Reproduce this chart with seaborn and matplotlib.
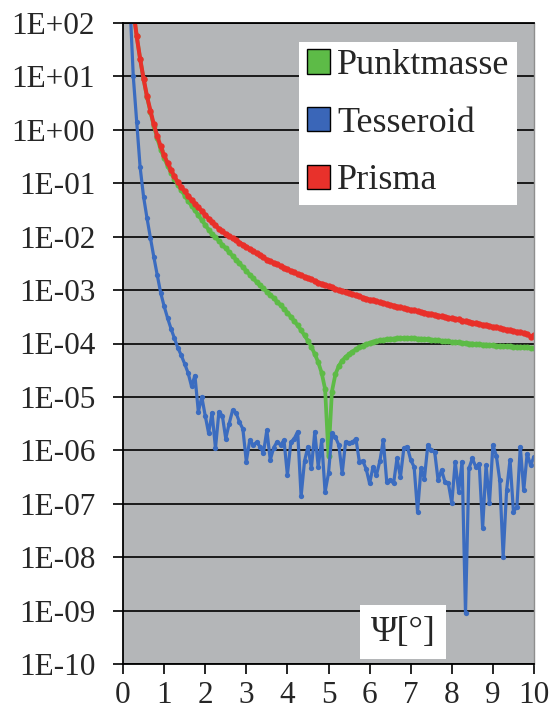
import numpy as np
import pandas as pd
import matplotlib
matplotlib.use("Agg")
import matplotlib.pyplot as plt
import seaborn as sns
from matplotlib.patches import Patch
from matplotlib.ticker import FixedLocator, FuncFormatter, NullLocator

# ---------------- data (psi in degrees, step 5' = 1/12 deg) ----------------
psi_steps = list(range(1, 121))          # psi = step / 12 degrees

# log10 of the values
punktmasse_log10 = [
    4.00, 3.00, 2.25, 1.75, 1.33, 0.95, 0.62, 0.34, 0.07, -0.16,
    -0.37, -0.53, -0.67, -0.80, -0.92, -1.03, -1.13, -1.23, -1.33, -1.42,
    -1.51, -1.60, -1.69, -1.78, -1.87, -1.95, -2.01, -2.08, -2.15, -2.22,
    -2.29, -2.36, -2.43, -2.50, -2.57, -2.64, -2.71, -2.78, -2.85, -2.91,
    -2.97, -3.03, -3.09, -3.15, -3.22, -3.28, -3.35, -3.42, -3.50, -3.58,
    -3.66, -3.75, -3.85, -3.95, -4.06, -4.20, -4.35, -4.55, -4.85, -6.10,
    -4.90, -4.58, -4.42, -4.32, -4.25, -4.20, -4.15, -4.11, -4.07, -4.04,
    -4.01, -3.99, -3.97, -3.95, -3.94, -3.93, -3.92, -3.91, -3.91, -3.90,
    -3.90, -3.90, -3.90, -3.90, -3.90, -3.91, -3.91, -3.92, -3.92, -3.93,
    -3.93, -3.94, -3.95, -3.95, -3.96, -3.97, -3.97, -3.98, -3.99, -3.99,
    -4.00, -4.00, -4.01, -4.01, -4.02, -4.02, -4.03, -4.03, -4.04, -4.04,
    -4.05, -4.05, -4.05, -4.06, -4.06, -4.07, -4.07, -4.07, -4.08, -4.08,
]

tesseroid_log10 = [
    4.00, 2.40, 1.00, 0.15, -0.70, -1.25, -1.65, -2.02, -2.38, -2.72,
    -3.05, -3.30, -3.52, -3.72, -3.90, -4.08, -4.22, -4.38, -4.55, -4.80,
    -4.60, -5.28, -5.00, -5.35, -5.68, -5.30, -5.96, -5.28, -5.35, -5.78,
    -5.50, -5.25, -5.30, -5.47, -5.60, -6.21, -5.81, -5.90, -5.85, -5.93,
    -6.05, -5.62, -6.18, -5.95, -5.84, -5.90, -5.81, -6.46, -5.85, -5.78,
    -5.65, -6.86, -6.20, -5.93, -6.34, -5.65, -6.31, -5.81, -6.78, -6.43,
    -5.68, -5.75, -5.90, -6.43, -5.84, -5.87, -5.85, -5.78, -6.21, -6.20,
    -6.35, -6.62, -6.31, -6.46, -6.20, -5.81, -6.59, -6.55, -6.62, -6.15,
    -6.50, -5.96, -5.93, -6.18, -6.31, -7.15, -6.34, -6.53, -5.90, -6.00,
    -6.03, -6.56, -6.37, -6.59, -6.62, -6.99, -6.21, -6.78, -6.21, -9.05,
    -6.34, -6.15, -6.31, -6.25, -7.46, -6.28, -6.99, -5.90, -6.10, -6.56,
    -7.99, -6.75, -6.18, -7.15, -7.06, -5.93, -6.75, -6.06, -6.28, -6.12,
]

prisma_log10 = [
    4.00, 3.00, 2.25, 1.75, 1.33, 0.96, 0.63, 0.36, 0.10, -0.12,
    -0.31, -0.48, -0.62, -0.75, -0.87, -0.98, -1.07, -1.15, -1.23, -1.31,
    -1.38, -1.45, -1.52, -1.59, -1.66, -1.73, -1.79, -1.85, -1.90, -1.95,
    -1.99, -2.03, -2.07, -2.11, -2.15, -2.19, -2.23, -2.27, -2.31, -2.35,
    -2.39, -2.43, -2.46, -2.49, -2.52, -2.55, -2.58, -2.61, -2.64, -2.67,
    -2.70, -2.72, -2.75, -2.78, -2.80, -2.83, -2.86, -2.88, -2.91, -2.93,
    -2.95, -2.98, -3.00, -3.02, -3.04, -3.06, -3.08, -3.10, -3.12, -3.14,
    -3.16, -3.18, -3.19, -3.21, -3.23, -3.24, -3.26, -3.28, -3.29, -3.31,
    -3.32, -3.34, -3.35, -3.37, -3.38, -3.40, -3.41, -3.42, -3.44, -3.45,
    -3.46, -3.48, -3.49, -3.50, -3.52, -3.53, -3.54, -3.55, -3.57, -3.58,
    -3.59, -3.61, -3.62, -3.63, -3.65, -3.66, -3.67, -3.69, -3.70, -3.71,
    -3.73, -3.74, -3.75, -3.77, -3.78, -3.79, -3.81, -3.82, -3.87, -3.84,
]

series_names = ["Punktmasse", "Tesseroid", "Prisma"]
series_colors = ["#5dbb46", "#3b6cc0", "#e8302a"]
legend_colors = ["#5dbb47", "#3a66b8", "#e8312b"]
y_exponents = list(range(-10, 3))
x_ticks = list(range(0, 11))
x_label = "\u03a8[\u00b0]"

# ---------------- build tidy table ----------------
psi = np.array(psi_steps) / 12.0
frames = []
for name, vals in zip(series_names, [punktmasse_log10, tesseroid_log10, prisma_log10]):
    frames.append(pd.DataFrame({"psi": psi, "value": 10.0 ** np.array(vals), "series": name}))
df = pd.concat(frames, ignore_index=True)

# ---------------- style ----------------
sns.set_theme(style="white")
plt.rcParams["font.family"] = ["Liberation Serif", "DejaVu Serif"]

fig = plt.figure(figsize=(5.53, 7.09), dpi=100)
ax = fig.add_axes([123 / 553, 45 / 709, 411 / 553, 641 / 709])
ax.set_facecolor("#b4b6b8")
ax.set_yscale("log")

line_w = {"Punktmasse": 2.7, "Tesseroid": 2.3, "Prisma": 2.9}
mark_s = {"Punktmasse": 4.3, "Tesseroid": 3.8, "Prisma": 4.6}
for name, col in zip(series_names, series_colors):
    sub = df[df["series"] == name]
    sns.lineplot(data=sub, x="psi", y="value", ax=ax, color=col, lw=line_w[name],
                 marker="o", markersize=mark_s[name], markeredgewidth=0,
                 estimator=None, sort=False, legend=False)

ax.set_xlim(0, 10)
ax.set_ylim(1e-10, 1e2)
ax.yaxis.set_major_locator(FixedLocator([10.0 ** e for e in y_exponents]))
ax.yaxis.set_minor_locator(NullLocator())
ax.yaxis.set_major_formatter(FuncFormatter(lambda v, p: "1E%+03d" % int(round(np.log10(v)))))
ax.set_xticks(x_ticks)
ax.set_xticklabels([str(t) for t in x_ticks])
ax.set_xlabel("")
ax.set_ylabel("")

ax.grid(axis="y", color="black", lw=1.2)
ax.grid(axis="x", visible=False)
ax.set_axisbelow(True)

ax.tick_params(axis="y", which="major", direction="out", length=7, width=1.2,
               color="black", labelsize=22.5, pad=13, left=True)
ax.tick_params(axis="x", which="major", direction="out", length=7, width=1.2,
               color="black", labelsize=22.5, pad=5, bottom=True)

for s in ["left", "bottom", "top"]:
    ax.spines[s].set_color("black")
    ax.spines[s].set_linewidth(1.3)
ax.spines["right"].set_color("#8e8e8e")
ax.spines["right"].set_linewidth(1.0)

# legend
handles = [Patch(facecolor=c, edgecolor="black", linewidth=1.0, label=n)
           for n, c in zip(series_names, legend_colors)]
leg = ax.legend(handles=handles, loc="upper right",
                bbox_to_anchor=((517 - 123) / 411, 1 - (42 - 23) / 641),
                borderaxespad=0, fontsize=26, frameon=True, fancybox=False,
                framealpha=1, edgecolor="white", facecolor="white",
                handlelength=0.65, handleheight=0.65, handletextpad=0.2,
                labelspacing=0.68, borderpad=0.2)
leg.get_frame().set_linewidth(0)

ax.text((403 - 123) / 411, 1 - (632 - 23) / 641, x_label, transform=ax.transAxes,
        ha="center", va="center", fontsize=26,
        bbox=dict(facecolor="white", edgecolor="none", boxstyle="square,pad=0.3"))

fig.savefig("out.png", dpi=100)
